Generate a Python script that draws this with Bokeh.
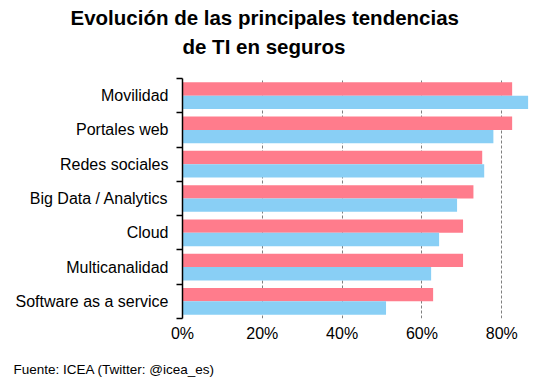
from bokeh.plotting import figure
from bokeh.models import ColumnDataSource, Range1d, FixedTicker, PrintfTickFormatter, Title
from bokeh.embed import file_html
from bokeh.resources import INLINE

categories = ["Movilidad", "Portales web", "Redes sociales", "Big Data / Analytics",
              "Cloud", "Multicanalidad", "Software as a service"]
serie_a = [82.6, 82.6, 75.1, 72.9, 70.3, 70.3, 62.8]   # pink
serie_b = [86.6, 77.9, 75.6, 68.8, 64.3, 62.3, 51.0]   # blue
x_ticks = [0, 20, 40, 60, 80]

title_1 = "Evolución de las principales tendencias"
title_2 = "de TI en seguros"
source_text = "Fuente: ICEA (Twitter: @icea_es)"

PINK = "#FF7C8C"
BLUE = "#89CFF5"
FONT = "Liberation Sans"

n = len(categories)
pos = [n - i for i in range(n)]
off = 0.195
h = 0.39

src = ColumnDataSource(dict(
    ya=[p_ + off for p_ in pos], yb=[p_ - off for p_ in pos],
    a=serie_a, b=serie_b))

p = figure(width=541, height=392, output_backend="svg", toolbar_location=None,
           x_range=Range1d(0, 87.2), y_range=Range1d(0.5, n + 0.5),
           min_border_left=182, min_border_right=11, min_border_top=78, min_border_bottom=74)
p.title.visible = False
p.outline_line_color = None
p.background_fill_color = "white"

p.hbar(y="ya", right="a", left=0, height=h, source=src, color=PINK, line_color=None)
p.hbar(y="yb", right="b", left=0, height=h, source=src, color=BLUE, line_color=None)

p.ygrid.visible = False
p.xgrid.ticker = FixedTicker(ticks=x_ticks)
p.xgrid.grid_line_color = "#7f7f7f"
p.xgrid.grid_line_dash = "3 2"
p.xgrid.grid_line_width = 1

xa = p.xaxis[0]
xa.ticker = FixedTicker(ticks=x_ticks)
xa.formatter = PrintfTickFormatter(format="%d%%")
xa.axis_line_color = None
xa.major_tick_line_color = None
xa.major_tick_out = 0
xa.minor_tick_line_color = None
xa.major_label_text_font = FONT
xa.major_label_text_font_size = "16px"
xa.major_label_text_color = "#000000"
xa.major_label_standoff = 6

ya = p.yaxis[0]
ya.ticker = FixedTicker(ticks=pos, minor_ticks=[k + 0.5 for k in range(n + 1)])
ya.major_label_overrides = {pp: c for pp, c in zip(pos, categories)}
ya.axis_line_color = "black"
ya.axis_line_width = 1.5
ya.major_tick_line_color = None
ya.major_tick_out = 0
ya.minor_tick_line_color = "black"
ya.minor_tick_line_width = 1.5
ya.minor_tick_out = 6
ya.minor_tick_in = 0
ya.major_label_text_font = FONT
ya.major_label_text_font_size = "16px"
ya.major_label_text_color = "#000000"
ya.major_label_standoff = 8

spacer = Title(text=" ", align="left", text_font_size="1px", standoff=16)
t2 = Title(text=title_2, align="left", offset=0, text_font=FONT, text_font_style="bold",
           text_font_size="20.5px", text_color="#000000", standoff=4)
t1 = Title(text=title_1, align="left", offset=-112, text_font=FONT, text_font_style="bold",
           text_font_size="20.5px", text_color="#000000", standoff=4)
p.add_layout(spacer, "above")
p.add_layout(t2, "above")
p.add_layout(t1, "above")

fn = Title(text=source_text, align="left", offset=-169, text_font=FONT,
           text_font_style="normal", text_font_size="13.5px", text_color="#000000", standoff=30)
p.add_layout(fn, "below")

open("out.html", "w").write(file_html(p, INLINE))
